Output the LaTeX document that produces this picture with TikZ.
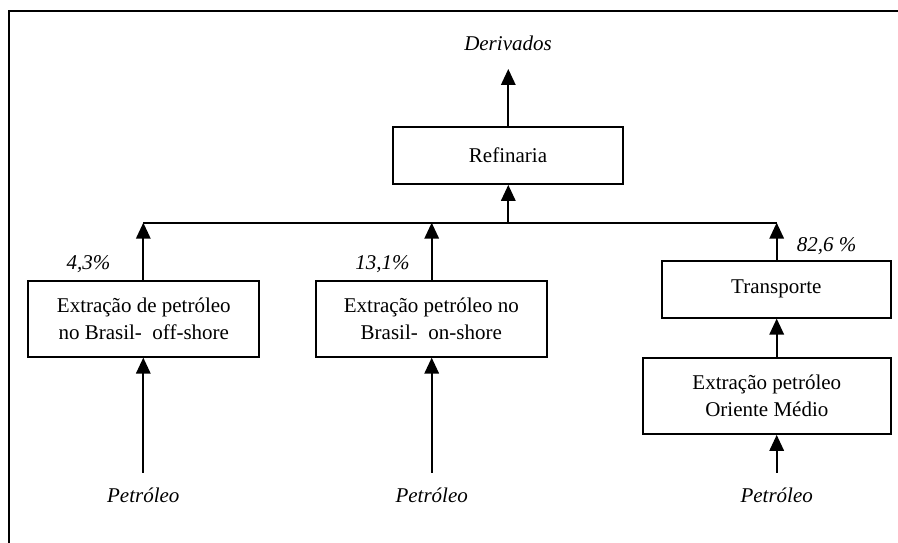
\documentclass[tikz,border=0pt]{standalone}
\usepackage{fontspec}
\setmainfont{Liberation Serif}
\usetikzlibrary{arrows.meta}
\begin{document}
\begin{tikzpicture}[x=1pt,y=-1pt,
  lbl/.style={font=\fontsize{21}{26.5}\selectfont\itshape, inner sep=0pt},
  box/.style={draw, line width=1.9pt, align=center, inner sep=0pt,
    font=\fontsize{21}{26.5}\selectfont},
  arr/.style={line width=1.7pt, -{Triangle[width=14.5pt,length=16pt]}},
  ln/.style={line width=1.7pt}]
\useasboundingbox (0,0) rectangle (898,543);
% frame
\draw[line width=1.5pt] (9,543) -- (9,11) -- (898,11);
% nodes
\node[lbl] (der) at (508,43) {Derivados};
\node[box, minimum width=230.6pt, minimum height=57.3pt] (ref) at (508,155.3) {Refinaria};
\node[box, minimum width=231pt, minimum height=76pt] (L) at (143.8,318.7) {Extração de petróleo\\no Brasil- \ off-shore};
\node[box, minimum width=230.7pt, minimum height=76pt] (M) at (431.3,318.7) {Extração petróleo no\\Brasil- \ on-shore};
\node[box, minimum width=229.3pt, minimum height=56.7pt] (T) at (776.3,289.3) {Transporte};
\node[box, minimum width=248.3pt, minimum height=76.3pt] (O) at (766.8,395.8) {Extração petróleo\\Oriente Médio};
\node[lbl] (pc1) at (88.5,264) {4,3\%};
\node[lbl] (pc2) at (382.5,264) {13,1\%};
\node[lbl] (pc3) at (826.7,246) {82,6 \%};
\node[lbl] (p1) at (143.3,495) {Petróleo};
\node[lbl] (p2) at (431.7,495) {Petróleo};
\node[lbl] (p3) at (776.7,495) {Petróleo};
% coordinates
\coordinate (bL) at (143.3,222.7);
\coordinate (bM) at (431.7,222.7);
\coordinate (bC) at (508.3,222.7);
\coordinate (bR) at (776.7,222.7);
\coordinate (dtop) at (508.3,69);
\coordinate (s1) at (143.3,472.7);
\coordinate (s2) at (431.7,472.7);
\coordinate (s3) at (776.7,472.7);
% connectors
\draw[arr] (ref.north -| dtop) -- (dtop);
\draw[ln] (bL) -- (bR);
\draw[arr] (bC) -- (bC |- ref.south);
\draw[arr] (L.north -| bL) -- (bL);
\draw[arr] (M.north -| bM) -- (bM);
\draw[arr] (T.north -| bR) -- (bR);
\draw[arr] (O.north -| bR) -- (T.south -| bR);
\draw[arr] (s1) -- (s1 |- L.south);
\draw[arr] (s2) -- (s2 |- M.south);
\draw[arr] (s3) -- (s3 |- O.south);
\end{tikzpicture}
\end{document}
